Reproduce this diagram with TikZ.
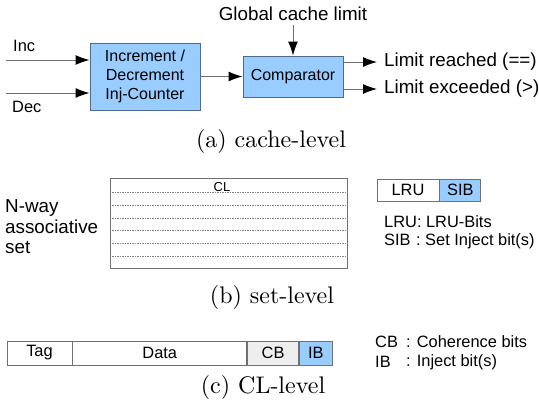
\documentclass[tikz,border=0pt]{standalone}
\usepackage{fontspec}
\setmainfont{Liberation Sans}
\newfontfamily\capfamily[Extension=.otf]{lmroman10-regular}
\usetikzlibrary{arrows.meta}
\definecolor{boxblue}{HTML}{99CCFF}
\definecolor{boxedge}{HTML}{4F6A8C}
\definecolor{cbgray}{HTML}{EEEEEE}
\definecolor{linegray}{HTML}{707070}
\newcommand\myLfont{\fontsize{18.8pt}{20.5pt}\selectfont}
\newcommand\myBfont{\fontsize{16pt}{19pt}\selectfont}
\newcommand\mySfont{\fontsize{16.4pt}{19pt}\selectfont}
\newcommand\myCLfont{\fontsize{13pt}{15pt}\selectfont}
\newcommand\myCapfont{\capfamily\fontsize{24pt}{28pt}\selectfont}
\tikzset{
  bluebox/.style={draw=boxedge, fill=boxblue, line width=1pt, inner sep=0pt, align=center, font=\myBfont},
  arr/.style={draw=linegray, line width=1pt, -{Latex[length=14pt,width=10pt,color=black]}},
  lbl/.style={inner sep=0pt, font=\myLfont},
  subcap/.style={inner sep=0pt, font=\myCapfont},
  cell/.style={draw=linegray, line width=0.8pt, inner sep=0pt, minimum height=22pt, font=\mySfont},
  legend/.style={inner sep=0pt, anchor=west, font=\mySfont},
  dashline/.style={draw=gray, line width=0.6pt, dash pattern=on 1.5pt off 1pt}
}
\begin{document}
\begin{tikzpicture}[x=1pt,y=-1pt]
\useasboundingbox (0,0) rectangle (539,408);
% (a) cache-level
\node[bluebox, minimum width=110pt, minimum height=67pt] (incdec) at (145,76.5) {Increment /\\Decrement\\Inj-Counter};
\node[bluebox, minimum width=100pt, minimum height=41pt] (comp) at (293,76.5) {Comparator};
\node[lbl] (glob) at (293,14) {Global cache limit};
\coordinate (incin) at (6,60);
\coordinate (decin) at (6,93);
\node[lbl, font=\mySfont, anchor=west] (inc) at (13,46) {Inc};
\node[lbl, font=\mySfont, anchor=west] (dec) at (12,107) {Dec};
\draw[arr] (incin) -- (incin -| incdec.west);
\draw[arr] (decin) -- (decin -| incdec.west);
\draw[arr] (incdec.east) -- (comp.west);
\draw[arr] (glob.south) ++(0,4) -- (comp.north);
\coordinate (o1) at (377,62);
\coordinate (o2) at (377,89);
\draw[arr] (o1 -| comp.east) -- (o1);
\draw[arr] (o2 -| comp.east) -- (o2);
\node[lbl, anchor=west] (lr) at (384,62) {Limit reached (==)};
\node[lbl, anchor=west] (le) at (384,89) {Limit exceeded (>)};
\node[subcap] (capa) at (271,141) {(a) cache-level};
% (b) set-level
\node[draw=linegray, line width=0.8pt, minimum width=237pt, minimum height=90pt, inner sep=0pt] (setbox) at (228.5,223) {};
\foreach \yy in {192,205,218,230.5,243,256}
  \draw[dashline] (setbox.west |- 0,\yy) -- (setbox.east |- 0,\yy);
\node[fill=white, inner sep=0.5pt, font=\myCLfont] (cl) at (222,187) {CL};
\node[lbl, anchor=west, align=left] (nway) at (5,227) {N-way\\associative\\set};
\node[cell, fill=white, minimum width=62pt] (lru) at (408,190) {LRU};
\node[cell, fill=boxblue, minimum width=41pt, anchor=west] (sib) at (lru.east) {SIB};
\node[legend] (lrul) at (384,222) {LRU: LRU-Bits};
\node[legend] (sibl) at (384,241) {SIB\,\,: Set Inject bit(s)};
\node[subcap] (capb) at (272,297) {(b) set-level};
% (c) CL-level
\node[cell, minimum height=24pt, minimum width=65pt] (tag) at (39.5,353) {Tag};
\node[cell, minimum height=24pt, minimum width=174pt, anchor=west] (data) at (tag.east) {Data};
\node[cell, minimum height=24pt, minimum width=51pt, anchor=west, fill=cbgray] (cb) at (data.east) {CB};
\node[cell, minimum height=24pt, minimum width=33pt, anchor=west, fill=boxblue] (ib) at (cb.east) {IB};
\node[legend] (cbk) at (375,342) {CB};
\node[legend] (cbv) at (406,342) {: Coherence bits};
\node[legend] (ibk) at (375,362) {IB};
\node[legend] (ibv) at (406,362) {: Inject bit(s)};
\node[subcap] (capc) at (263,387) {(c) CL-level};
\end{tikzpicture}
\end{document}
